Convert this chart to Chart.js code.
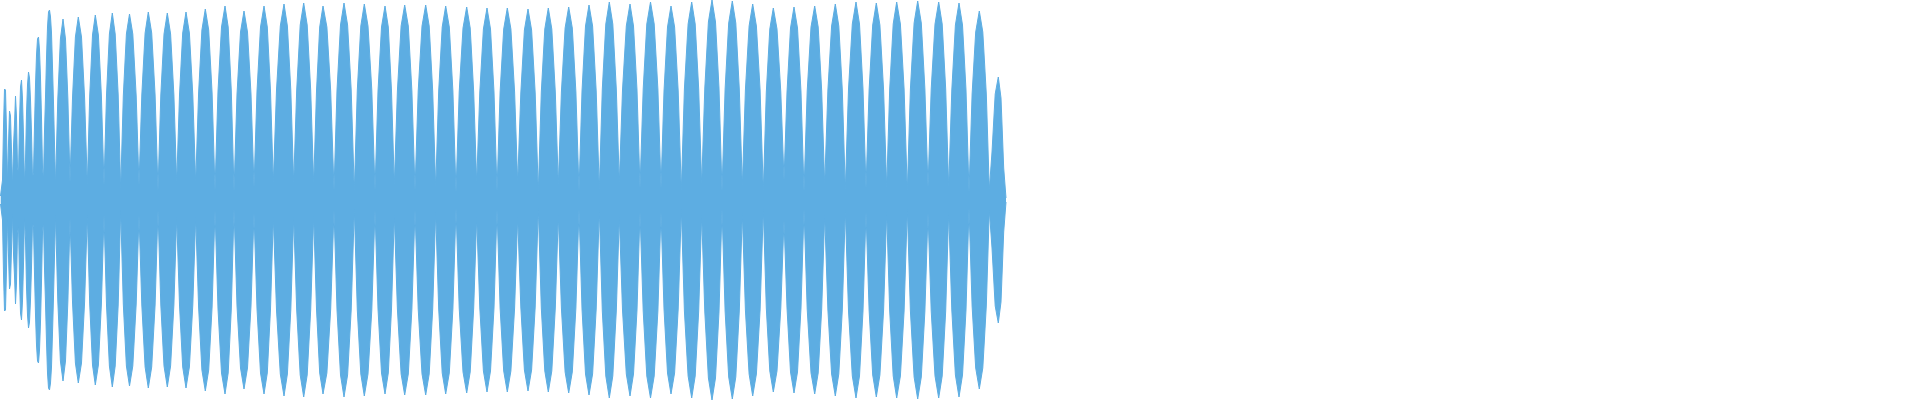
<!DOCTYPE html>
<html>
<head>
<meta charset="utf-8">
<title>Waveform</title>
<script src="https://cdn.jsdelivr.net/npm/chart.js@4/dist/chart.umd.min.js"></script>
<style>
    html, body { margin: 0; padding: 0; background: #ffffff; }
    #wrap { width: 1920px; height: 400px; }
</style>
</head>
<body>
<div id="wrap"><canvas id="wave" width="1920" height="400"></canvas></div>
<script>
'use strict';

// onset: one level per sample, samples 0..55
var onsetLevel = [2, 6, 10, 37, 55.5, 55, 34.5, 8.5, 28, 44.5, 42, 24.5, 7, 27, 38,
    52, 41.5, 16.5, 13, 39.5, 56.5, 60, 50.5, 32, 8.5, 19.5, 43.5, 57.5, 64, 61,
    50, 33.5, 11.5, 13.5, 37, 57.5, 72.5, 80.5, 81.5, 75, 61, 41, 16, 10.5, 34.5,
    51.5, 71, 86.5, 94, 95, 91.5, 83.5, 66.5, 48.5, 28, 7.5];

// body: envelope points per lobe (rise, rise, peak, fall, fall, trough)
var bodyTime = [
    57.8, 60.4, 63, 65.5, 67.9, 70,
    72.5, 75.4, 78.3, 81.5, 84.6, 87.3,
    89.7, 92.5, 95.3, 98.4, 101.4, 104,
    106.5, 109.4, 112.3, 115.2, 118.2, 120.7,
    123.3, 126.4, 129.5, 132.8, 136.2, 139,
    141.8, 145.1, 148.3, 151.7, 155.1, 158,
    160.8, 164, 167.3, 170.6, 173.9, 176.7,
    179.5, 182.7, 186, 189.4, 192.8, 195.7,
    198.6, 201.9, 205.3, 208.7, 212.1, 215,
    218, 221.5, 225, 228.2, 231.3, 234,
    237, 240.5, 244, 247.5, 251, 254,
    257, 260.5, 264, 267.3, 270.5, 273.3,
    276.5, 280.3, 284, 287.4, 290.8, 293.7,
    296.7, 300.2, 303.7, 307.2, 310.7, 313.7,
    316.5, 319.7, 323, 326.9, 330.7, 334,
    337, 340.5, 344, 347.6, 351.2, 354.3,
    357.3, 360.8, 364.3, 368, 371.8, 375,
    378, 381.5, 385, 388.3, 391.5, 394.3,
    397.4, 401.1, 404.7, 408.3, 411.9, 415,
    418.2, 422, 425.7, 429.2, 432.7, 435.7,
    438.7, 442.2, 445.7, 449.3, 452.9, 456,
    459.2, 463, 466.7, 470.2, 473.7, 476.7,
    479.8, 483.4, 487, 490.5, 494, 497,
    500.1, 503.7, 507.3, 510.9, 514.6, 517.7,
    520.8, 524.4, 528, 531.6, 535.2, 538.3,
    541.3, 544.8, 548.3, 551.8, 555.3, 558.3,
    561.4, 565.1, 568.7, 572.3, 575.9, 579,
    582, 585.5, 589, 592.6, 596.2, 599.3,
    602.3, 605.8, 609.3, 612.8, 616.3, 619.3,
    622.5, 626.3, 630, 633.5, 637, 640,
    643.2, 646.8, 650.5, 654.2, 657.9, 661,
    664, 667.5, 671, 674.6, 678.2, 681.3,
    684.4, 688.1, 691.7, 695.2, 698.7, 701.7,
    704.8, 708.4, 712, 715.5, 719, 722,
    725.1, 728.7, 732.3, 735.8, 739.3, 742.3,
    745.4, 749.1, 752.7, 756.4, 760.1, 763.3,
    766.3, 769.8, 773.3, 777, 780.8, 784,
    787, 790.5, 794, 797.5, 801, 804,
    807.2, 811, 814.7, 818.2, 821.7, 824.7,
    827.9, 831.6, 835.3, 838.8, 842.3, 845.3,
    848.5, 852.3, 856, 859.5, 863, 866,
    869.1, 872.7, 876.3, 879.9, 883.6, 886.7,
    889.7, 893.2, 896.7, 900.4, 904.1, 907.3,
    910.4, 914.1, 917.7, 921.3, 924.9, 928,
    931.2, 935, 938.7, 942.2, 945.7, 948.7,
    951.8, 955.4, 959, 962.5, 966, 969,
    972.1, 975.7, 979.3, 982.8, 986.3, 989.3,
    992, 995.2, 998.3, 1001, 1003.7, 1006
];

var bodyLevel = [
    50.5, 80.5, 90.5, 80.5, 50.5, 9,
    51, 81.5, 91.5, 81.5, 51, 7.5,
    52, 82.5, 92.5, 82.5, 52, 7.5,
    52.5, 83, 93.5, 83, 52.5, 5,
    52, 83, 93, 83, 52, 7.5,
    52.5, 83.5, 94, 83.5, 52.5, 5,
    52.5, 83, 93.5, 83, 52.5, 8.5,
    52.5, 83.5, 94, 83.5, 52.5, 8.5,
    53.5, 85, 95.5, 85, 53.5, 5,
    54.5, 86.5, 97, 86.5, 54.5, 4.5,
    53, 84, 94.5, 84, 53, 6.5,
    54.5, 86.5, 97, 86.5, 54.5, 8.5,
    55, 87, 98, 87, 55, 8.5,
    55, 87.5, 98.5, 87.5, 55, 8,
    54.5, 86.5, 97, 86.5, 54.5, 5,
    55, 87.5, 98.5, 87.5, 55, 4.5,
    55, 87, 98, 87, 55, 5,
    54.5, 86.5, 97, 86.5, 54.5, 7.5,
    54.5, 87, 97.5, 87, 54.5, 5,
    54.5, 87, 97.5, 87, 54.5, 6,
    54.5, 86.5, 97, 86.5, 54.5, 4,
    54, 86, 96.5, 86, 54, 8.5,
    54, 85.5, 96, 85.5, 54, 4.5,
    54, 85.5, 96, 85.5, 54, 8.5,
    53.5, 85, 95.5, 85, 53.5, 4,
    54, 85.5, 96, 85.5, 54, 7.5,
    54, 86, 96.5, 86, 54, 4.5,
    54.5, 87, 97.5, 87, 54.5, 5,
    55.5, 88, 99, 88, 55.5, 8.5,
    55, 87, 98, 87, 55, 6,
    55.5, 88, 99, 88, 55.5, 6,
    54.5, 86.5, 97, 86.5, 54.5, 4.5,
    55.5, 88, 99, 88, 55.5, 7.5,
    56, 89, 100, 89, 56, 4.5,
    55.5, 88.5, 99.5, 88.5, 55.5, 6.5,
    55, 87, 98, 87, 55, 4.5,
    54, 85.5, 96, 85.5, 54, 10,
    54, 86, 96.5, 86, 54, 4.5,
    54.5, 86.5, 97, 86.5, 54.5, 7.5,
    55, 87, 98, 87, 55, 5,
    55.5, 88, 99, 88, 55.5, 6,
    55, 87.5, 98.5, 87.5, 55, 6,
    55.5, 88, 99, 88, 55.5, 4.5,
    55.5, 88.5, 99.5, 88.5, 55.5, 6.5,
    55.5, 88, 99, 88, 55.5, 6,
    55, 87.5, 98.5, 87.5, 55, 4,
    53, 84, 94.5, 84, 53, 5,
    24, 53, 61.5, 51, 16, 1
];

var timeRange = [0, 1920];
var levelRange = [-100, 100];
var waveColor = '#5dade2';

function buildUpper() {
    var pts = onsetLevel.map(function(v, i) { return { x: i + 0.5, y: v }; });
    bodyTime.forEach(function(t, i) { pts.push({ x: t, y: bodyLevel[i] }); });
    return pts;
}

var upper = buildUpper();
var lower = upper.map(function(p) { return { x: p.x, y: -p.y }; });

new Chart(document.getElementById('wave'), {
    type: 'line',
    data: {
        datasets: [{
            data: upper,
            borderColor: waveColor,
            borderWidth: 1,
            backgroundColor: waveColor,
            pointRadius: 0,
            tension: 0,
            fill: '+1'
        }, {
            data: lower,
            borderColor: waveColor,
            borderWidth: 1,
            backgroundColor: waveColor,
            pointRadius: 0,
            tension: 0,
            fill: false
        }]
    },
    options: {
        responsive: false,
        animation: false,
        layout: { padding: 0 },
        plugins: { legend: { display: false }, tooltip: { enabled: false } },
        scales: {
            x: { type: 'linear', min: timeRange[0], max: timeRange[1], display: false },
            y: { min: levelRange[0], max: levelRange[1], display: false }
        }
    }
});
</script>
</body>
</html>
